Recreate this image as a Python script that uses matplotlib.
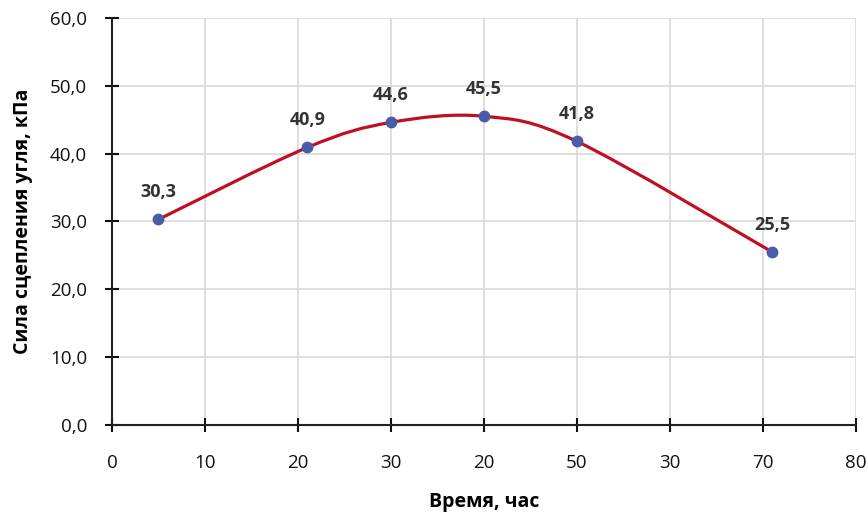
import matplotlib
matplotlib.use("Agg")
import matplotlib.pyplot as plt
from matplotlib.path import Path
import matplotlib.patches as patches
import numpy as np

# data
time_h = [5, 21, 30, 40, 50, 71]
strength = [30.3, 40.9, 44.6, 45.5, 41.8, 25.5]
x_ticks = [0, 10, 20, 30, 40, 50, 60, 70, 80]
x_tick_labels = ['0', '10', '20', '30', '20', '50', '30', '70', '80']
y_ticks = [0, 10, 20, 30, 40, 50, 60]

plt.rcParams['font.family'] = ['Open Sans', 'DejaVu Sans']


def smooth_path(xs, ys):
    # Excel-style smoothed line: cubic bezier with catmull-rom control points
    pts = np.column_stack([xs, ys])
    ext = np.vstack([pts[0], pts, pts[-1]])
    verts = [tuple(pts[0])]
    codes = [Path.MOVETO]
    for i in range(1, len(ext) - 2):
        p0, p1, p2, p3 = ext[i - 1], ext[i], ext[i + 1], ext[i + 2]
        c1 = p1 + (p2 - p0) / 6
        c2 = p2 - (p3 - p1) / 6
        verts += [tuple(c1), tuple(c2), tuple(p2)]
        codes += [Path.CURVE4] * 3
    return Path(verts, codes)


fig = plt.figure(figsize=(8.68, 5.12), dpi=100)
ax = fig.add_axes([0.129, 0.17, 0.857, 0.795])

ax.add_patch(patches.PathPatch(smooth_path(time_h, strength), fc='none',
                               ec='#c00f23', lw=2.3, zorder=3))
ax.plot(time_h, strength, 'o', color='#4a5ba8', ms=7.5, zorder=4)

for x, y in zip(time_h, strength):
    ax.annotate(f'{y:.1f}'.replace('.', ','), (x, y), xytext=(0, 13),
                textcoords='offset points', ha='center', va='bottom',
                fontsize=13, fontweight='bold', color='#333333')

ax.set_xlim(0, 80)
ax.set_ylim(0, 60)
ax.set_xticks(x_ticks)
ax.set_xticklabels(x_tick_labels)
ax.set_yticks(y_ticks)
ax.set_yticklabels([f'{v:.1f}'.replace('.', ',') for v in y_ticks])
ax.grid(True, color='#d9d9d9', lw=1.2)
ax.set_axisbelow(True)

for s in ['top', 'right']:
    ax.spines[s].set_visible(False)
for s in ['left', 'bottom']:
    ax.spines[s].set_linewidth(1.5)
    ax.spines[s].set_color('#222222')
ax.tick_params(direction='inout', length=10, width=1.5, labelsize=13.5,
               colors='#111111')
ax.tick_params(axis='y', pad=13)
ax.tick_params(axis='x', pad=16)

ax.set_xlabel('Время, час', fontsize=14, fontweight='bold', labelpad=14)
ax.set_ylabel('Сила сцепления угля, кПа', fontsize=14, fontweight='bold',
              labelpad=12)

fig.savefig('out.png', dpi=100)
